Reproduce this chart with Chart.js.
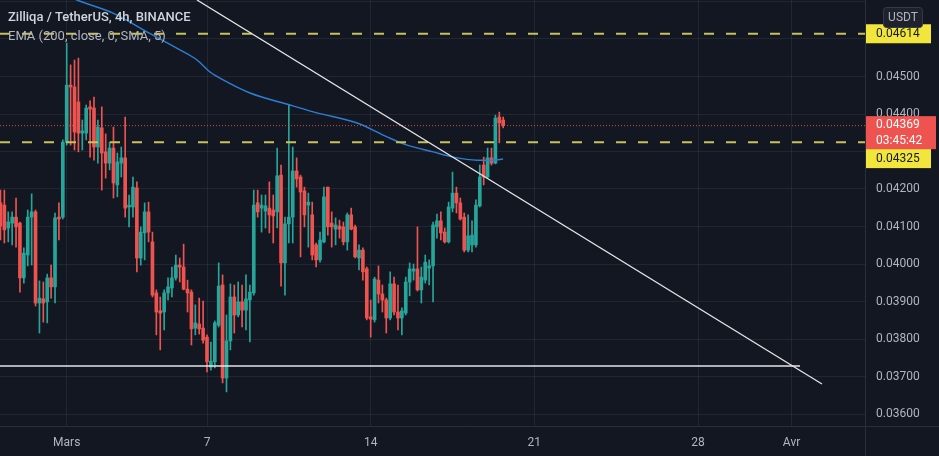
<!DOCTYPE html>
<html>
<head>
<meta charset="utf-8">
<title>Zilliqa / TetherUS, 4h, BINANCE</title>
<script src="https://cdn.jsdelivr.net/npm/chart.js@4.4.1/dist/chart.umd.min.js"></script>
<style>
    html, body { margin: 0; padding: 0; background: #131722; }
    #mainContentDivId { position: relative; width: 939px; height: 456px; }
</style>
</head>
<body>
<div id="mainContentDivId"></div>
<script>
// 4h candles, first one 26 Feb 04:00, time counted in days from 1 Mars
const firstCandleDay = -17 / 6;
const candleStepDays = 4 / 24;

const candleOpen = [
    0.04163, 0.04157, 0.04096, 0.04109, 0.04125, 0.04109, 0.03963, 0.04024, 0.04125, 0.04139,
    0.03896, 0.03907, 0.03899, 0.03963, 0.03939, 0.04125, 0.04125, 0.04325, 0.04477, 0.04472,
    0.04432, 0.04349, 0.04349, 0.04419, 0.04416, 0.04312, 0.04363, 0.04299, 0.04269, 0.04309,
    0.04211, 0.04269, 0.04283, 0.04152, 0.04152, 0.04203, 0.04016, 0.04083, 0.04139, 0.04059,
    0.03923, 0.03875, 0.03872, 0.03923, 0.03936, 0.03963, 0.03997, 0.03992, 0.03933, 0.03925,
    0.03829, 0.03840, 0.03829, 0.03805, 0.03725, 0.03739, 0.03837, 0.03944, 0.03696, 0.03795,
    0.03912, 0.03864, 0.03899, 0.03877, 0.03904, 0.03923, 0.04163, 0.04149, 0.04141, 0.04149,
    0.04144, 0.04139, 0.04237, 0.04003, 0.04107, 0.04125, 0.04248, 0.04232, 0.04195, 0.04157,
    0.04131, 0.04051, 0.04011, 0.04059, 0.04205, 0.04109, 0.04093, 0.04101, 0.04099, 0.04059,
    0.04131, 0.04099, 0.04016, 0.04037, 0.03987, 0.03859, 0.03851, 0.03957, 0.03920, 0.03904,
    0.03856, 0.03947, 0.03872, 0.03856, 0.03869, 0.03952, 0.03981, 0.03987, 0.03931, 0.03957,
    0.03989, 0.03995, 0.04099, 0.04115, 0.04085, 0.04059, 0.04149, 0.04189, 0.04163, 0.04125,
    0.04037, 0.04051, 0.04051, 0.04155, 0.04264, 0.04232, 0.04283, 0.04269, 0.04392, 0.04384
];
const candleHigh = [
    0.04197, 0.04197, 0.04139, 0.04139, 0.04176, 0.04112, 0.04043, 0.04144, 0.04187, 0.04144,
    0.03955, 0.03952, 0.03973, 0.03997, 0.04136, 0.04163, 0.04331, 0.04589, 0.04531, 0.04544,
    0.04549, 0.04384, 0.04424, 0.04435, 0.04445, 0.04384, 0.04419, 0.04347, 0.04325, 0.04365,
    0.04296, 0.04312, 0.04392, 0.04184, 0.04232, 0.04219, 0.04099, 0.04163, 0.04165, 0.04085,
    0.03931, 0.03912, 0.03931, 0.03963, 0.03992, 0.04024, 0.04016, 0.04053, 0.03957, 0.03931,
    0.03891, 0.03909, 0.03901, 0.03811, 0.03792, 0.03848, 0.04003, 0.03971, 0.03864, 0.03947,
    0.03944, 0.03952, 0.03944, 0.03971, 0.03944, 0.04197, 0.04197, 0.04184, 0.04184, 0.04219,
    0.04184, 0.04309, 0.04264, 0.04125, 0.04424, 0.04312, 0.04283, 0.04237, 0.04205, 0.04189,
    0.04165, 0.04056, 0.04085, 0.04205, 0.04205, 0.04139, 0.04123, 0.04117, 0.04112, 0.04136,
    0.04149, 0.04104, 0.04051, 0.04043, 0.03992, 0.03904, 0.03965, 0.03995, 0.03944, 0.03909,
    0.03979, 0.03965, 0.03944, 0.03883, 0.03965, 0.04003, 0.04000, 0.04099, 0.03992, 0.04024,
    0.04011, 0.04112, 0.04133, 0.04139, 0.04096, 0.04165, 0.04245, 0.04205, 0.04176, 0.04136,
    0.04131, 0.04115, 0.04171, 0.04264, 0.04285, 0.04309, 0.04309, 0.04397, 0.04405, 0.04392
];
const candleLow = [
    0.04064, 0.04056, 0.04059, 0.04051, 0.04045, 0.03925, 0.03949, 0.03995, 0.03997, 0.03888,
    0.03816, 0.03845, 0.03843, 0.03909, 0.03896, 0.04064, 0.04120, 0.04317, 0.04317, 0.04304,
    0.04299, 0.04304, 0.04331, 0.04285, 0.04277, 0.04269, 0.04197, 0.04229, 0.04251, 0.04176,
    0.04179, 0.04232, 0.04125, 0.04099, 0.04125, 0.03979, 0.03997, 0.04011, 0.04059, 0.03912,
    0.03811, 0.03771, 0.03824, 0.03904, 0.03912, 0.03957, 0.03952, 0.03931, 0.03872, 0.03784,
    0.03811, 0.03813, 0.03789, 0.03712, 0.03717, 0.03723, 0.03832, 0.03683, 0.03659, 0.03771,
    0.03816, 0.03859, 0.03832, 0.03824, 0.03792, 0.03917, 0.04125, 0.04085, 0.04096, 0.04083,
    0.04056, 0.04096, 0.03941, 0.03917, 0.04056, 0.04056, 0.04205, 0.04019, 0.04099, 0.04045,
    0.04011, 0.03992, 0.04005, 0.04056, 0.04077, 0.04045, 0.04051, 0.04069, 0.04051, 0.04037,
    0.04091, 0.04016, 0.03984, 0.03957, 0.03851, 0.03805, 0.03845, 0.03896, 0.03872, 0.03816,
    0.03851, 0.03864, 0.03824, 0.03811, 0.03864, 0.03915, 0.03957, 0.03928, 0.03896, 0.03949,
    0.03944, 0.03899, 0.04069, 0.04064, 0.04056, 0.04056, 0.04139, 0.04136, 0.04117, 0.04032,
    0.04032, 0.04032, 0.04045, 0.04152, 0.04211, 0.04229, 0.04264, 0.04267, 0.04323, 0.04363
];
const candleClose = [
    0.04101, 0.04091, 0.04112, 0.04125, 0.04099, 0.03963, 0.04029, 0.04125, 0.04139, 0.03896,
    0.03909, 0.03896, 0.03963, 0.03939, 0.04123, 0.04120, 0.04325, 0.04477, 0.04472, 0.04352,
    0.04349, 0.04355, 0.04416, 0.04413, 0.04312, 0.04365, 0.04296, 0.04269, 0.04309, 0.04216,
    0.04272, 0.04283, 0.04149, 0.04157, 0.04205, 0.04016, 0.04085, 0.04139, 0.04085, 0.03917,
    0.03872, 0.03869, 0.03923, 0.03939, 0.03963, 0.03997, 0.03992, 0.03933, 0.03923, 0.03827,
    0.03843, 0.03827, 0.03797, 0.03739, 0.03741, 0.03843, 0.03941, 0.03696, 0.03795, 0.03912,
    0.03864, 0.03899, 0.03877, 0.03907, 0.03925, 0.04157, 0.04139, 0.04157, 0.04155, 0.04131,
    0.04128, 0.04235, 0.04003, 0.04107, 0.04125, 0.04248, 0.04227, 0.04192, 0.04131, 0.04165,
    0.04024, 0.04011, 0.04064, 0.04179, 0.04099, 0.04099, 0.04104, 0.04093, 0.04059, 0.04131,
    0.04093, 0.04019, 0.04037, 0.03979, 0.03856, 0.03853, 0.03960, 0.03920, 0.03904, 0.03856,
    0.03947, 0.03872, 0.03856, 0.03875, 0.03952, 0.03987, 0.03987, 0.03931, 0.03965, 0.04005,
    0.03995, 0.04104, 0.04115, 0.04083, 0.04059, 0.04152, 0.04189, 0.04163, 0.04120, 0.04037,
    0.04075, 0.04077, 0.04157, 0.04232, 0.04232, 0.04283, 0.04269, 0.04389, 0.04376, 0.04369
];

// EMA (200, close, 0, SMA, 5)
const emaDays = [-0.29, 0.44, 1.98, 3.43, 4.84, 5.57, 6.13, 6.69, 7.84, 9.55, 10.70, 12.42, 13.70, 14.56, 15.67, 16.52, 17.55, 18.24, 18.66];
const emaValues = [0.04725, 0.04704, 0.04669, 0.04619, 0.04571, 0.04544, 0.04512, 0.04491, 0.04456, 0.04424, 0.04403, 0.04376, 0.04339, 0.04317, 0.04299, 0.04285, 0.04277, 0.04277, 0.04280];

// drawings
const trendDays = [5.57, 32.3];
const trendValues = [0.04704, 0.0368];
const supportValue = 0.03728;
const supportEndDay = 31.36;
const levelHigh = 0.04614;
const levelLow = 0.04325;
const lastPrice = 0.04369;
const barCountdown = "03:45:42";

// axes
const dayMin = -2.853;
const dayMax = 34.14;
const priceMin = 0.03568;
const priceMax = 0.04704;
const dayTicks = [0, 6, 13, 20, 27, 31];
const dayTickLabels = ["Mars", "7", "14", "21", "28", "Avr"];
const priceTicks = [0.036, 0.037, 0.038, 0.039, 0.040, 0.041, 0.042, 0.043, 0.044, 0.045, 0.046, 0.047];
const hiddenPriceLabels = [0.043, 0.046, 0.047];

const titleText = "Zilliqa / TetherUS, 4h, BINANCE";
const emaText = "EMA (200, close, 0, SMA, 5)";
const currencyText = "USDT";

const GREEN = "#26a69a";
const RED = "#ef5350";
const YELLOW = "#f2e63c";
const DASH_YELLOW = "#c6c257";
const TEXT = "#b2b5be";
const LINE_COLOUR = "#2a2e39";
const GRID = "rgba(54, 58, 69, 0.45)";
const FONT = "Roboto, 'Liberation Sans', sans-serif";

let mainContentDiv;
let chartCanvas;

window.addEventListener("DOMContentLoaded", init);


function priceBox(ctx, left, top, width, height, fill, lines, textColour) {
    ctx.fillStyle = fill;
    ctx.fillRect(left, top, width, height);
    ctx.fillStyle = textColour;
    ctx.font = "12px " + FONT;
    ctx.textAlign = "left";
    ctx.textBaseline = "middle";
    const step = height / lines.length;
    lines.forEach((t, i) => ctx.fillText(t, left + 10, top + step * i + step / 2 + 0.5));
}


const overlayPlugin = {
    id: "overlay",
    beforeDraw(chart) {
        const ctx = chart.ctx;
        ctx.save();
        ctx.fillStyle = "#131722";
        ctx.fillRect(0, 0, chart.width, chart.height);
        ctx.restore();
    },
    afterDraw(chart) {
        const ctx = chart.ctx;
        const area = chart.chartArea;
        const y = chart.scales.y;
        ctx.save();

        // axis borders, full length
        ctx.strokeStyle = LINE_COLOUR;
        ctx.lineWidth = 1;
        ctx.beginPath();
        ctx.moveTo(Math.round(area.right) + 0.5, 0);
        ctx.lineTo(Math.round(area.right) + 0.5, chart.height);
        ctx.moveTo(0, Math.round(area.bottom) + 0.5);
        ctx.lineTo(chart.width, Math.round(area.bottom) + 0.5);
        ctx.stroke();

        // legend text
        ctx.textAlign = "left";
        ctx.textBaseline = "middle";
        ctx.fillStyle = "#d1d4dc";
        ctx.font = "500 13px " + FONT;
        ctx.fillText(titleText, 8, 18);
        ctx.fillStyle = TEXT;
        ctx.font = "13px " + FONT;
        ctx.fillText(emaText, 8, 37);

        // price labels on the scale
        const left = area.right + 1;
        const yHigh = y.getPixelForValue(levelHigh);
        priceBox(ctx, left, yHigh - 9.5, 65, 19, YELLOW, [levelHigh.toFixed(5)], "#131722");
        const yLast = y.getPixelForValue(lastPrice);
        const redTop = yLast - 9.5;
        priceBox(ctx, left, redTop, 70, 33, RED, [lastPrice.toFixed(5), barCountdown], "#ffffff");
        priceBox(ctx, left, redTop + 33, 65, 19, YELLOW, [levelLow.toFixed(5)], "#131722");

        // currency badge
        ctx.fillStyle = "#1e222d";
        ctx.strokeStyle = "#363a45";
        ctx.beginPath();
        ctx.roundRect(883.5, 7.5, 39, 20, 3);
        ctx.fill();
        ctx.stroke();
        ctx.fillStyle = TEXT;
        ctx.font = "12px " + FONT;
        ctx.textAlign = "center";
        ctx.fillText(currencyText, 903, 18);

        ctx.restore();
    }
};


function init() {

    mainContentDiv = document.getElementById("mainContentDivId");
    chartCanvas = document.createElement("canvas");
    chartCanvas.setAttribute("id", "chartCanvasId");
    mainContentDiv.appendChild(chartCanvas);

    const candleDays = candleOpen.map((o, i) => firstCandleDay + i * candleStepDays);
    const candleColour = ctx => candleClose[ctx.dataIndex] >= candleOpen[ctx.dataIndex] ? GREEN : RED;

    new Chart(chartCanvas, {
        type: 'bar',
        data: {
            datasets: [
                {
                    type: 'line',
                    label: 'trend',
                    data: trendDays.map((d, i) => ({ x: d, y: trendValues[i] })),
                    borderColor: '#e6e6e6',
                    borderWidth: 1.3,
                    pointRadius: 0,
                    order: 0
                },
                {
                    type: 'line',
                    label: 'support',
                    data: [{ x: dayMin, y: supportValue }, { x: supportEndDay, y: supportValue }],
                    borderColor: '#e6e6e6',
                    borderWidth: 1.3,
                    pointRadius: 0,
                    order: 0
                },
                {
                    type: 'line',
                    label: 'level high',
                    data: [{ x: dayMin, y: levelHigh }, { x: dayMax, y: levelHigh }],
                    borderColor: DASH_YELLOW,
                    borderWidth: 2,
                    borderDash: [10, 12],
                    pointRadius: 0,
                    order: 0
                },
                {
                    type: 'line',
                    label: 'level low',
                    data: [{ x: dayMin, y: levelLow }, { x: dayMax, y: levelLow }],
                    borderColor: DASH_YELLOW,
                    borderWidth: 2,
                    borderDash: [10, 12],
                    pointRadius: 0,
                    order: 0
                },
                {
                    type: 'line',
                    label: 'last price',
                    data: [{ x: dayMin, y: lastPrice }, { x: dayMax, y: lastPrice }],
                    borderColor: 'rgba(239, 83, 80, 0.85)',
                    borderWidth: 1,
                    borderDash: [1, 2],
                    pointRadius: 0,
                    order: 1
                },
                {
                    type: 'line',
                    label: 'EMA',
                    data: emaDays.map((d, i) => ({ x: d, y: emaValues[i] })),
                    borderColor: '#2d7dd2',
                    borderWidth: 1.5,
                    pointRadius: 0,
                    cubicInterpolationMode: 'monotone',
                    order: 2
                },
                {
                    label: 'bodies',
                    data: candleDays.map((d, i) => ({ x: d, y: [candleOpen[i], candleClose[i]] })),
                    backgroundColor: candleColour,
                    barThickness: 3,
                    maxBarThickness: 3,
                    minBarLength: 1,
                    grouped: false,
                    order: 3
                },
                {
                    label: 'wicks',
                    data: candleDays.map((d, i) => ({ x: d, y: [candleLow[i], candleHigh[i]] })),
                    backgroundColor: candleColour,
                    barThickness: 1,
                    maxBarThickness: 1,
                    grouped: false,
                    order: 4
                }
            ]
        },
        options: {
            responsive: true,
            maintainAspectRatio: false,
            animation: false,
            events: [],
            layout: { padding: 0 },
            plugins: {
                legend: { display: false },
                tooltip: { enabled: false }
            },
            scales: {
                x: {
                    type: 'linear',
                    min: dayMin,
                    max: dayMax,
                    offset: false,
                    bounds: 'data',
                    grid: { offset: false, color: GRID, drawTicks: false },
                    border: { display: false },
                    ticks: {
                        color: TEXT,
                        font: { family: FONT, size: 12 },
                        padding: 10,
                        autoSkip: false,
                        maxRotation: 0,
                        callback: v => dayTickLabels[dayTicks.indexOf(v)]
                    },
                    afterBuildTicks: s => { s.ticks = dayTicks.map(v => ({ value: v })); },
                    afterFit: s => {
                        s.height = 30;
                        s.paddingLeft = 0;
                        s.paddingRight = 0;
                    }
                },
                y: {
                    type: 'linear',
                    position: 'right',
                    min: priceMin,
                    max: priceMax,
                    beginAtZero: false,
                    bounds: 'data',
                    grid: { color: GRID, drawTicks: false },
                    border: { display: false },
                    ticks: {
                        color: TEXT,
                        font: { family: FONT, size: 12 },
                        padding: 11,
                        callback: v => hiddenPriceLabels.some(h => Math.abs(h - v) < 1e-7) ? '' : v.toFixed(5)
                    },
                    afterBuildTicks: s => { s.ticks = priceTicks.map(v => ({ value: v })); },
                    afterFit: s => {
                        s.width = 74;
                        s.paddingTop = 0;
                        s.paddingBottom = 0;
                    }
                }
            }
        },
        plugins: [overlayPlugin]
    });
}
</script>
</body>
</html>
